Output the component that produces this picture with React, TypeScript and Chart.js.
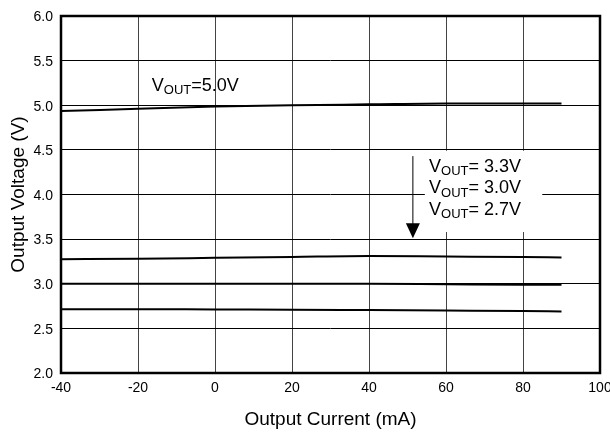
import React, { useEffect, useRef } from "react";
import { Chart, registerables } from "chart.js";

Chart.register(...registerables);

// ---- data ----
const currents = [-40, -20, 0, 20, 40, 60, 80, 90];
const vout50 = [4.935, 4.96, 4.985, 5.0, 5.01, 5.02, 5.02, 5.02];
const vout33 = [3.275, 3.28, 3.29, 3.3, 3.31, 3.305, 3.3, 3.295];
const vout30 = [3.0, 3.0, 3.0, 3.0, 3.0, 2.995, 2.99, 2.99];
const vout27 = [2.715, 2.715, 2.712, 2.71, 2.705, 2.7, 2.695, 2.69];
const seriesNames = ["VOUT=5.0V", "VOUT=3.3V", "VOUT=3.0V", "VOUT=2.7V"];
const xTicks = [-40, -20, 0, 20, 40, 60, 80, 100];
const yTicks = [2.0, 2.5, 3.0, 3.5, 4.0, 4.5, 5.0, 5.5, 6.0];
const topLabelValue = "5.0V";
const listLabelValues = ["3.3V", "3.0V", "2.7V"];
const xTitle = "Output Current (mA)";
const yTitle = "Output Voltage (V)";

const FONT = '"Liberation Sans", Arial, Helvetica, sans-serif';

function drawVout(ctx: CanvasRenderingContext2D, x: number, y: number, value: string, spaced: boolean) {
  ctx.save();
  ctx.fillStyle = "#000";
  ctx.textAlign = "left";
  ctx.textBaseline = "alphabetic";
  ctx.font = `18px ${FONT}`;
  ctx.fillText("V", x, y);
  let w = ctx.measureText("V").width;
  ctx.font = `13px ${FONT}`;
  ctx.fillText("OUT", x + w, y + 3.5);
  w += ctx.measureText("OUT").width;
  ctx.font = `18px ${FONT}`;
  ctx.fillText((spaced ? "= " : "=") + value, x + w, y);
  ctx.restore();
}

const annotationPlugin = {
  id: "annotations",
  beforeDatasetsDraw(chart: any) {
    const { ctx, scales } = chart;
    const xs = scales.x;
    const ys = scales.y;
    // white box behind the label list
    const bx0 = xs.getPixelForValue(54.5);
    const bx1 = xs.getPixelForValue(85);
    const by0 = ys.getPixelForValue(4.49);
    const by1 = ys.getPixelForValue(3.58);
    ctx.save();
    ctx.fillStyle = "#fff";
    ctx.fillRect(bx0, by0, bx1 - bx0, by1 - by0);
    ctx.restore();
  },
  afterDraw(chart: any) {
    const { ctx, scales, chartArea } = chart;
    const xs = scales.x;
    const ys = scales.y;
    // top label
    drawVout(ctx, xs.getPixelForValue(-16.4), ys.getPixelForValue(5.16), topLabelValue, false);
    // list labels
    const lx = xs.getPixelForValue(55.6);
    const ly0 = ys.getPixelForValue(4.255);
    listLabelValues.forEach((v, i) => drawVout(ctx, lx, ly0 + i * 21.6, v, true));
    // arrow
    const ax = xs.getPixelForValue(51.4);
    const ay0 = ys.getPixelForValue(4.43);
    const ayTip = ys.getPixelForValue(3.51);
    ctx.save();
    ctx.strokeStyle = "#000";
    ctx.fillStyle = "#000";
    ctx.lineWidth = 1;
    ctx.beginPath();
    ctx.moveTo(ax, ay0);
    ctx.lineTo(ax, ayTip - 14);
    ctx.stroke();
    ctx.beginPath();
    ctx.moveTo(ax - 7, ayTip - 15);
    ctx.lineTo(ax + 7, ayTip - 15);
    ctx.lineTo(ax, ayTip);
    ctx.closePath();
    ctx.fill();
    // plot frame
    ctx.lineWidth = 2.5;
    ctx.strokeRect(chartArea.left, chartArea.top, chartArea.right - chartArea.left, chartArea.bottom - chartArea.top);
    ctx.restore();
  },
};

export default function App() {
  const ref = useRef<HTMLCanvasElement | null>(null);
  useEffect(() => {
    if (!ref.current) return;
    const mk = (vals: number[], i: number) => ({
      label: seriesNames[i],
      data: currents.map((x, k) => ({ x, y: vals[k] })),
      borderColor: "#000",
      borderWidth: 2,
      pointRadius: 0,
      fill: false,
      cubicInterpolationMode: "monotone" as const,
    });
    const chart = new Chart(ref.current, {
      type: "line",
      data: {
        datasets: [mk(vout50, 0), mk(vout33, 1), mk(vout30, 2), mk(vout27, 3)],
      },
      options: {
        animation: false,
        responsive: false,
        devicePixelRatio: 1,
        layout: { padding: { top: 16, right: 0, left: 0, bottom: 0 } },
        plugins: { legend: { display: false }, tooltip: { enabled: false } },
        scales: {
          x: {
            type: "linear",
            min: -40,
            max: 100,
            afterBuildTicks: (s: any) => {
              s.ticks = xTicks.map((v) => ({ value: v }));
            },
            ticks: {
              font: { size: 14, family: FONT },
              color: "#000",
              padding: 7,
              maxRotation: 0,
              autoSkip: false,
              callback: (v: any) => String(v),
            },
            grid: { color: "#444", lineWidth: 1, drawTicks: false },
            border: { display: false },
            title: {
              display: true,
              text: xTitle,
              font: { size: 19, family: FONT },
              color: "#000",
              padding: { top: 0, bottom: 3 },
            },
            afterFit: (s: any) => {
              s.height = 61;
              s.paddingRight = 10;
              s.paddingLeft = 0;
            },
          },
          y: {
            type: "linear",
            min: 2,
            max: 6,
            afterBuildTicks: (s: any) => {
              s.ticks = yTicks.map((v) => ({ value: v }));
            },
            ticks: {
              font: { size: 14, family: FONT },
              color: "#000",
              padding: 8,
              labelOffset: 1.5,
              autoSkip: false,
              callback: (v: any) => Number(v).toFixed(1),
            },
            grid: { color: "#000", lineWidth: 1, drawTicks: false },
            border: { display: false },
            title: {
              display: true,
              text: yTitle,
              font: { size: 19, family: FONT },
              color: "#000",
              padding: { top: 7, bottom: 0 },
            },
            afterFit: (s: any) => {
              s.width = 61;
              s.paddingTop = 0;
              s.paddingBottom = 0;
            },
          },
        },
      } as any,
      plugins: [annotationPlugin],
    });
    return () => chart.destroy();
  }, []);
  return (
    <div style={{ position: "fixed", left: 0, top: 0, width: 610, height: 434, background: "#fff" }}>
      <canvas ref={ref} width={610} height={434} style={{ display: "block" }} />
    </div>
  );
}
